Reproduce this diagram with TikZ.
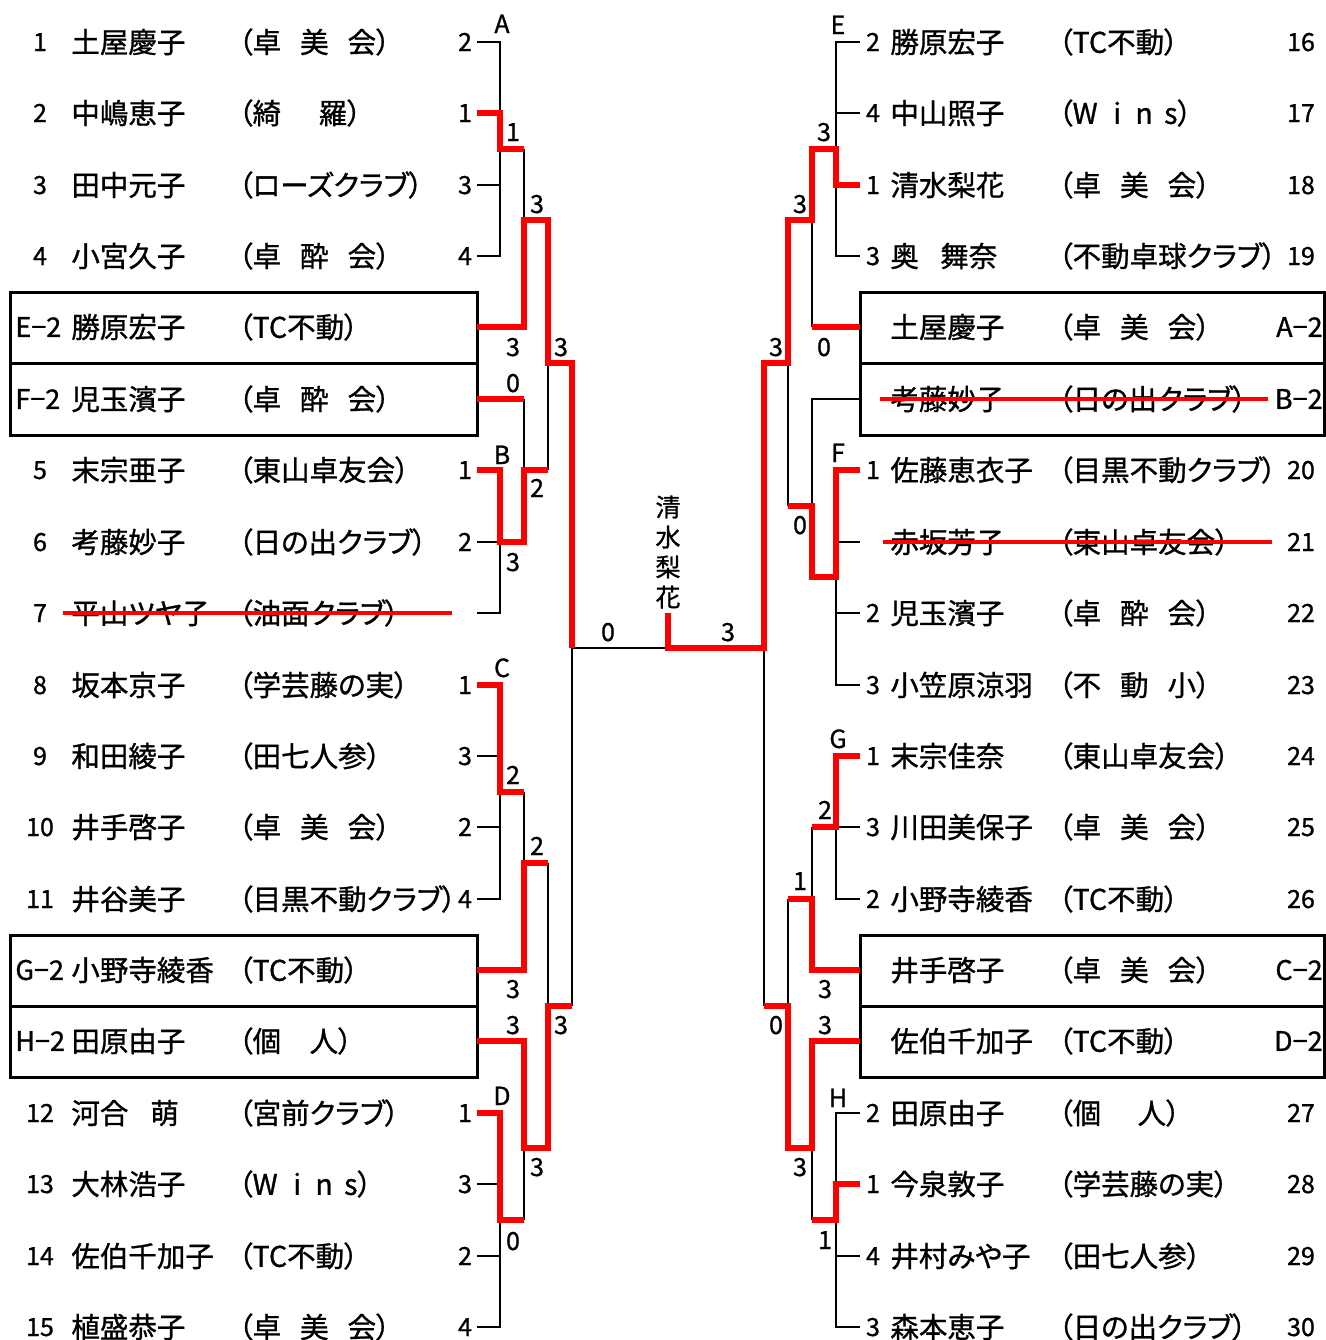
\documentclass[tikz,border=0pt]{standalone}
\usepackage{fontspec}
\setmainfont[RawFeature=+palt, FakeBold=1]{Noto Sans CJK JP}
\tikzset{
	nr/.style={font=\fontsize{12.5}{12.5}\selectfont, inner sep=0pt, text height=9pt, text depth=0pt},
	nm/.style={font=\fontsize{14.25}{14.25}\selectfont, inner sep=0pt, anchor=west, text height=12.54pt, text depth=1.71pt},
	tag/.style={font=\fontsize{13.5}{13.5}\selectfont, inner sep=0pt, text height=9.9pt, text depth=0pt},
	bk/.style={line width=1.35pt},
	rd/.style={red, line width=2.6pt},
	cut/.style={red, line width=2.1pt},
	box/.style={line width=1.5pt},
}
\newcommand{\gp}{\kern.667em}
\begin{document}
\begin{tikzpicture}[x=0.5pt,y=-0.5pt]
	\useasboundingbox (0,0) rectangle (1326,1340);
%		boxes
		\draw[box] (10,292) rectangle (477,435);
		\draw[box] (10,363) -- (477,363);
		\draw[box] (10,935) rectangle (477,1077);
		\draw[box] (10,1006) -- (477,1006);
		\draw[box] (860,292) rectangle (1324,435);
		\draw[box] (860,363) -- (1324,363);
		\draw[box] (860,935) rectangle (1324,1077);
		\draw[box] (860,1006) -- (1324,1006);
%		left names
		\node[nr] (ln1) at (40,42) {1};
		\node[nm] (lp1) at (71,42) {土屋慶子};
		\node[nm] (lc1) at (238,42) {（卓\gp 美\gp 会）};
		\node[nr] (ls1) at (465,42) {2};
		\node[nr] (ln2) at (40,113) {2};
		\node[nm] (lp2) at (71,113) {中嶋恵子};
		\node[nm] (lc2) at (238,113) {（綺\kern1.32em 羅）};
		\node[nr] (ls2) at (465,113) {1};
		\node[nr] (ln3) at (40,185) {3};
		\node[nm] (lp3) at (71,185) {田中元子};
		\node[nm] (lc3) at (238,185) {（ローズクラブ）};
		\node[nr] (ls3) at (465,185) {3};
		\node[nr] (ln4) at (40,256) {4};
		\node[nm] (lp4) at (71,256) {小宮久子};
		\node[nm] (lc4) at (238,256) {（卓\gp 酔\gp 会）};
		\node[nr] (ls4) at (465,256) {4};
		\node[tag,anchor=west] (lt5) at (15,327) {E−2};
		\node[nm] (lp5) at (71,327) {勝原宏子};
		\node[nm] (lc5) at (238,327) {（TC不動）};
		\node[tag,anchor=west] (lt6) at (15,399) {F−2};
		\node[nm] (lp6) at (71,399) {児玉濱子};
		\node[nm] (lc6) at (238,399) {（卓\gp 酔\gp 会）};
		\node[nr] (ln7) at (40,470) {5};
		\node[nm] (lp7) at (71,470) {末宗亜子};
		\node[nm] (lc7) at (238,470) {（東山卓友会）};
		\node[nr] (ls7) at (465,470) {1};
		\node[nr] (ln8) at (40,542) {6};
		\node[nm] (lp8) at (71,542) {考藤妙子};
		\node[nm] (lc8) at (238,542) {（日の出クラブ）};
		\node[nr] (ls8) at (465,542) {2};
		\node[nr] (ln9) at (40,613) {7};
		\node[nm] (lp9) at (71,613) {平山ツヤ子};
		\node[nm] (lc9) at (238,613) {（油面クラブ）};
		\node[nr] (ln10) at (40,685) {8};
		\node[nm] (lp10) at (71,685) {坂本京子};
		\node[nm] (lc10) at (238,685) {（学芸藤の実）};
		\node[nr] (ls10) at (465,685) {1};
		\node[nr] (ln11) at (40,756) {9};
		\node[nm] (lp11) at (71,756) {和田綾子};
		\node[nm] (lc11) at (238,756) {（田七人参）};
		\node[nr] (ls11) at (465,756) {3};
		\node[nr] (ln12) at (40,827) {10};
		\node[nm] (lp12) at (71,827) {井手啓子};
		\node[nm] (lc12) at (238,827) {（卓\gp 美\gp 会）};
		\node[nr] (ls12) at (465,827) {2};
		\node[nr] (ln13) at (40,899) {11};
		\node[nm] (lp13) at (71,899) {井谷美子};
		\node[nm] (lc13) at (238,899) {（目黒不動クラブ）};
		\node[nr] (ls13) at (465,899) {4};
		\node[tag,anchor=west] (lt14) at (15,970) {G−2};
		\node[nm] (lp14) at (71,970) {小野寺綾香};
		\node[nm] (lc14) at (238,970) {（TC不動）};
		\node[tag,anchor=west] (lt15) at (15,1041) {H−2};
		\node[nm] (lp15) at (71,1041) {田原由子};
		\node[nm] (lc15) at (238,1041) {（個\kern1em 人）};
		\node[nr] (ln16) at (40,1113) {12};
		\node[nm] (lp16) at (71,1113) {河合\kern.77em 萌};
		\node[nm] (lc16) at (238,1113) {（宮前クラブ）};
		\node[nr] (ls16) at (465,1113) {1};
		\node[nr] (ln17) at (40,1184) {13};
		\node[nm] (lp17) at (71,1184) {大林浩子};
		\node[nm] (lc17) at (238,1184) {（W\kern.55em i\kern.5em n\kern.4em s）};
		\node[nr] (ls17) at (465,1184) {3};
		\node[nr] (ln18) at (40,1256) {14};
		\node[nm] (lp18) at (71,1256) {佐伯千加子};
		\node[nm] (lc18) at (238,1256) {（TC不動）};
		\node[nr] (ls18) at (465,1256) {2};
		\node[nr] (ln19) at (40,1327) {15};
		\node[nm] (lp19) at (71,1327) {植盛恭子};
		\node[nm] (lc19) at (238,1327) {（卓\gp 美\gp 会）};
		\node[nr] (ls19) at (465,1327) {4};
%		right names
		\node[nr] (rs1) at (873,42) {2};
		\node[nm] (rp1) at (890,42) {勝原宏子};
		\node[nm] (rc1) at (1058,42) {（TC不動）};
		\node[nr] (rn1) at (1301,42) {16};
		\node[nr] (rs2) at (873,113) {4};
		\node[nm] (rp2) at (890,113) {中山照子};
		\node[nm] (rc2) at (1058,113) {（W\kern.55em i\kern.5em n\kern.4em s）};
		\node[nr] (rn2) at (1301,113) {17};
		\node[nr] (rs3) at (873,185) {1};
		\node[nm] (rp3) at (890,185) {清水梨花};
		\node[nm] (rc3) at (1058,185) {（卓\gp 美\gp 会）};
		\node[nr] (rn3) at (1301,185) {18};
		\node[nr] (rs4) at (873,256) {3};
		\node[nm] (rp4) at (890,256) {奥\kern.75em 舞奈};
		\node[nm] (rc4) at (1058,256) {（不動卓球クラブ）};
		\node[nr] (rn4) at (1301,256) {19};
		\node[nm] (rp5) at (890,327) {土屋慶子};
		\node[nm] (rc5) at (1058,327) {（卓\gp 美\gp 会）};
		\node[tag,anchor=east] (rt5) at (1323,327) {A−2};
		\node[nm] (rp6) at (890,399) {考藤妙子};
		\node[nm] (rc6) at (1058,399) {（日の出クラブ）};
		\node[tag,anchor=east] (rt6) at (1323,399) {B−2};
		\node[nr] (rs7) at (873,470) {1};
		\node[nm] (rp7) at (890,470) {佐藤恵衣子};
		\node[nm] (rc7) at (1058,470) {（目黒不動クラブ）};
		\node[nr] (rn7) at (1301,470) {20};
		\node[nm] (rp8) at (890,542) {赤坂芳子};
		\node[nm] (rc8) at (1058,542) {（東山卓友会）};
		\node[nr] (rn8) at (1301,542) {21};
		\node[nr] (rs9) at (873,613) {2};
		\node[nm] (rp9) at (890,613) {児玉濱子};
		\node[nm] (rc9) at (1058,613) {（卓\gp 酔\gp 会）};
		\node[nr] (rn9) at (1301,613) {22};
		\node[nr] (rs10) at (873,685) {3};
		\node[nm] (rp10) at (890,685) {小笠原涼羽};
		\node[nm] (rc10) at (1058,685) {（不\gp 動\gp 小）};
		\node[nr] (rn10) at (1301,685) {23};
		\node[nr] (rs11) at (873,756) {1};
		\node[nm] (rp11) at (890,756) {末宗佳奈};
		\node[nm] (rc11) at (1058,756) {（東山卓友会）};
		\node[nr] (rn11) at (1301,756) {24};
		\node[nr] (rs12) at (873,827) {3};
		\node[nm] (rp12) at (890,827) {川田美保子};
		\node[nm] (rc12) at (1058,827) {（卓\gp 美\gp 会）};
		\node[nr] (rn12) at (1301,827) {25};
		\node[nr] (rs13) at (873,899) {2};
		\node[nm] (rp13) at (890,899) {小野寺綾香};
		\node[nm] (rc13) at (1058,899) {（TC不動）};
		\node[nr] (rn13) at (1301,899) {26};
		\node[nm] (rp14) at (890,970) {井手啓子};
		\node[nm] (rc14) at (1058,970) {（卓\gp 美\gp 会）};
		\node[tag,anchor=east] (rt14) at (1323,970) {C−2};
		\node[nm] (rp15) at (890,1041) {佐伯千加子};
		\node[nm] (rc15) at (1058,1041) {（TC不動）};
		\node[tag,anchor=east] (rt15) at (1323,1041) {D−2};
		\node[nr] (rs16) at (873,1113) {2};
		\node[nm] (rp16) at (890,1113) {田原由子};
		\node[nm] (rc16) at (1058,1113) {（個\kern1.28em 人）};
		\node[nr] (rn16) at (1301,1113) {27};
		\node[nr] (rs17) at (873,1184) {1};
		\node[nm] (rp17) at (890,1184) {今泉敦子};
		\node[nm] (rc17) at (1058,1184) {（学芸藤の実）};
		\node[nr] (rn17) at (1301,1184) {28};
		\node[nr] (rs18) at (873,1256) {4};
		\node[nm] (rp18) at (890,1256) {井村みや子};
		\node[nm] (rc18) at (1058,1256) {（田七人参）};
		\node[nr] (rn18) at (1301,1256) {29};
		\node[nr] (rs19) at (873,1327) {3};
		\node[nm] (rp19) at (890,1327) {森本恵子};
		\node[nm] (rc19) at (1058,1327) {（日の出クラブ）};
		\node[nr] (rn19) at (1301,1327) {30};
%		group letters
		\node[nr] (gA) at (502,24) {A};
		\node[nr] (gB) at (502,455) {B};
		\node[nr] (gC) at (502,668) {C};
		\node[nr] (gD) at (502,1096) {D};
		\node[nr] (gE) at (838,25) {E};
		\node[nr] (gF) at (838,453) {F};
		\node[nr] (gG) at (838,739) {G};
		\node[nr] (gH) at (838,1098) {H};
%		left bracket
		\draw[bk] (477,42) -- (500,42) -- (500,113);
		\draw[bk] (477,185) -- (500,185);
		\draw[bk] (477,256) -- (500,256) -- (500,149);
		\draw[bk] (524,149) -- (524,220);
		\draw[bk] (548,363) -- (548,470);
		\draw[bk] (524,399) -- (524,470);
		\draw[bk] (477,542) -- (500,542) -- (500,613) -- (477,613);
		\draw[bk] (572,648) -- (668,648);
		\draw[bk] (572,648) -- (572,1006);
		\draw[bk] (477,756) -- (500,756);
		\draw[bk] (477,827) -- (500,827);
		\draw[bk] (477,899) -- (500,899) -- (500,792);
		\draw[bk] (524,792) -- (524,863);
		\draw[bk] (548,863) -- (548,1006);
		\draw[bk] (524,1220) -- (524,1148);
		\draw[bk] (477,1184) -- (500,1184);
		\draw[bk] (477,1256) -- (500,1256);
		\draw[bk] (477,1327) -- (500,1327) -- (500,1220);
%		right bracket
		\draw[bk] (860,42) -- (836,42) -- (836,149);
		\draw[bk] (860,113) -- (836,113);
		\draw[bk] (860,256) -- (836,256) -- (836,185);
		\draw[bk] (812,220) -- (812,327);
		\draw[bk] (860,399) -- (812,399) -- (812,506);
		\draw[bk] (788,363) -- (788,506);
		\draw[bk] (860,542) -- (836,542);
		\draw[bk] (860,613) -- (836,613);
		\draw[bk] (860,685) -- (836,685) -- (836,577);
		\draw[bk] (764,648) -- (764,1006);
		\draw[bk] (860,827) -- (836,827);
		\draw[bk] (860,899) -- (836,899) -- (836,827);
		\draw[bk] (812,827) -- (812,899);
		\draw[bk] (788,899) -- (788,1006);
		\draw[bk] (860,1113) -- (836,1113) -- (836,1184);
		\draw[bk] (812,1220) -- (812,1148);
		\draw[bk] (860,1256) -- (836,1256);
		\draw[bk] (860,1327) -- (836,1327) -- (836,1220);
%		winners
		\draw[rd] (477,113) -- (500,113) -- (500,149) -- (524,149);
		\draw[rd] (477,327) -- (524,327) -- (524,220) -- (548,220) -- (548,363) -- (572,363) -- (572,648);
		\draw[rd] (477,399) -- (524,399);
		\draw[rd] (477,470) -- (500,470) -- (500,542) -- (524,542) -- (524,470) -- (548,470);
		\draw[rd] (477,685) -- (500,685) -- (500,792) -- (524,792);
		\draw[rd] (477,970) -- (524,970) -- (524,863) -- (548,863);
		\draw[rd] (477,1041) -- (524,1041) -- (524,1148) -- (548,1148) -- (548,1006) -- (572,1006);
		\draw[rd] (477,1113) -- (500,1113) -- (500,1220) -- (524,1220);
		\draw[rd] (860,185) -- (836,185) -- (836,149) -- (812,149) -- (812,220) -- (788,220) -- (788,363) -- (764,363) -- (764,648) -- (668,648) -- (668,613);
		\draw[rd] (812,327) -- (860,327);
		\draw[rd] (860,470) -- (836,470) -- (836,577) -- (812,577) -- (812,506) -- (788,506);
		\draw[rd] (860,756) -- (836,756) -- (836,827) -- (812,827);
		\draw[rd] (860,970) -- (812,970) -- (812,899) -- (788,899);
		\draw[rd] (764,1006) -- (788,1006) -- (788,1148) -- (812,1148) -- (812,1041) -- (860,1041);
		\draw[rd] (860,1184) -- (836,1184) -- (836,1220) -- (812,1220);
%		withdrawn
		\draw[cut] (63,613) -- (452,613);
		\draw[cut] (880,399) -- (1268,399);
		\draw[cut] (883,542) -- (1272,542);
%		match scores
		\node[nr] (m1) at (513,132) {1};
		\node[nr] (m2) at (537,204) {3};
		\node[nr] (m3) at (513,347) {3};
		\node[nr] (m4) at (561,347) {3};
		\node[nr] (m5) at (513,383) {0};
		\node[nr] (m6) at (537,488) {2};
		\node[nr] (m7) at (513,562) {3};
		\node[nr] (m8) at (608,632) {0};
		\node[nr] (m9) at (728,632) {3};
		\node[nr] (m10) at (513,775) {2};
		\node[nr] (m11) at (537,846) {2};
		\node[nr] (m12) at (513,989) {3};
		\node[nr] (m13) at (513,1025) {3};
		\node[nr] (m14) at (561,1025) {3};
		\node[nr] (m15) at (537,1167) {3};
		\node[nr] (m16) at (513,1241) {0};
		\node[nr] (m17) at (824,132) {3};
		\node[nr] (m18) at (800,204) {3};
		\node[nr] (m19) at (776,347) {3};
		\node[nr] (m20) at (824,347) {0};
		\node[nr] (m21) at (800,525) {0};
		\node[nr] (m22) at (825,810) {2};
		\node[nr] (m23) at (800,881) {1};
		\node[nr] (m24) at (825,989) {3};
		\node[nr] (m25) at (776,1025) {0};
		\node[nr] (m26) at (825,1025) {3};
		\node[nr] (m27) at (800,1167) {3};
		\node[nr] (m28) at (825,1240) {1};
%		champion
		\node[font=\fontsize{12.5}{15}\selectfont, align=center, inner sep=0pt] (ch) at (668,552) {清\\水\\梨\\花};
\end{tikzpicture}
\end{document}
